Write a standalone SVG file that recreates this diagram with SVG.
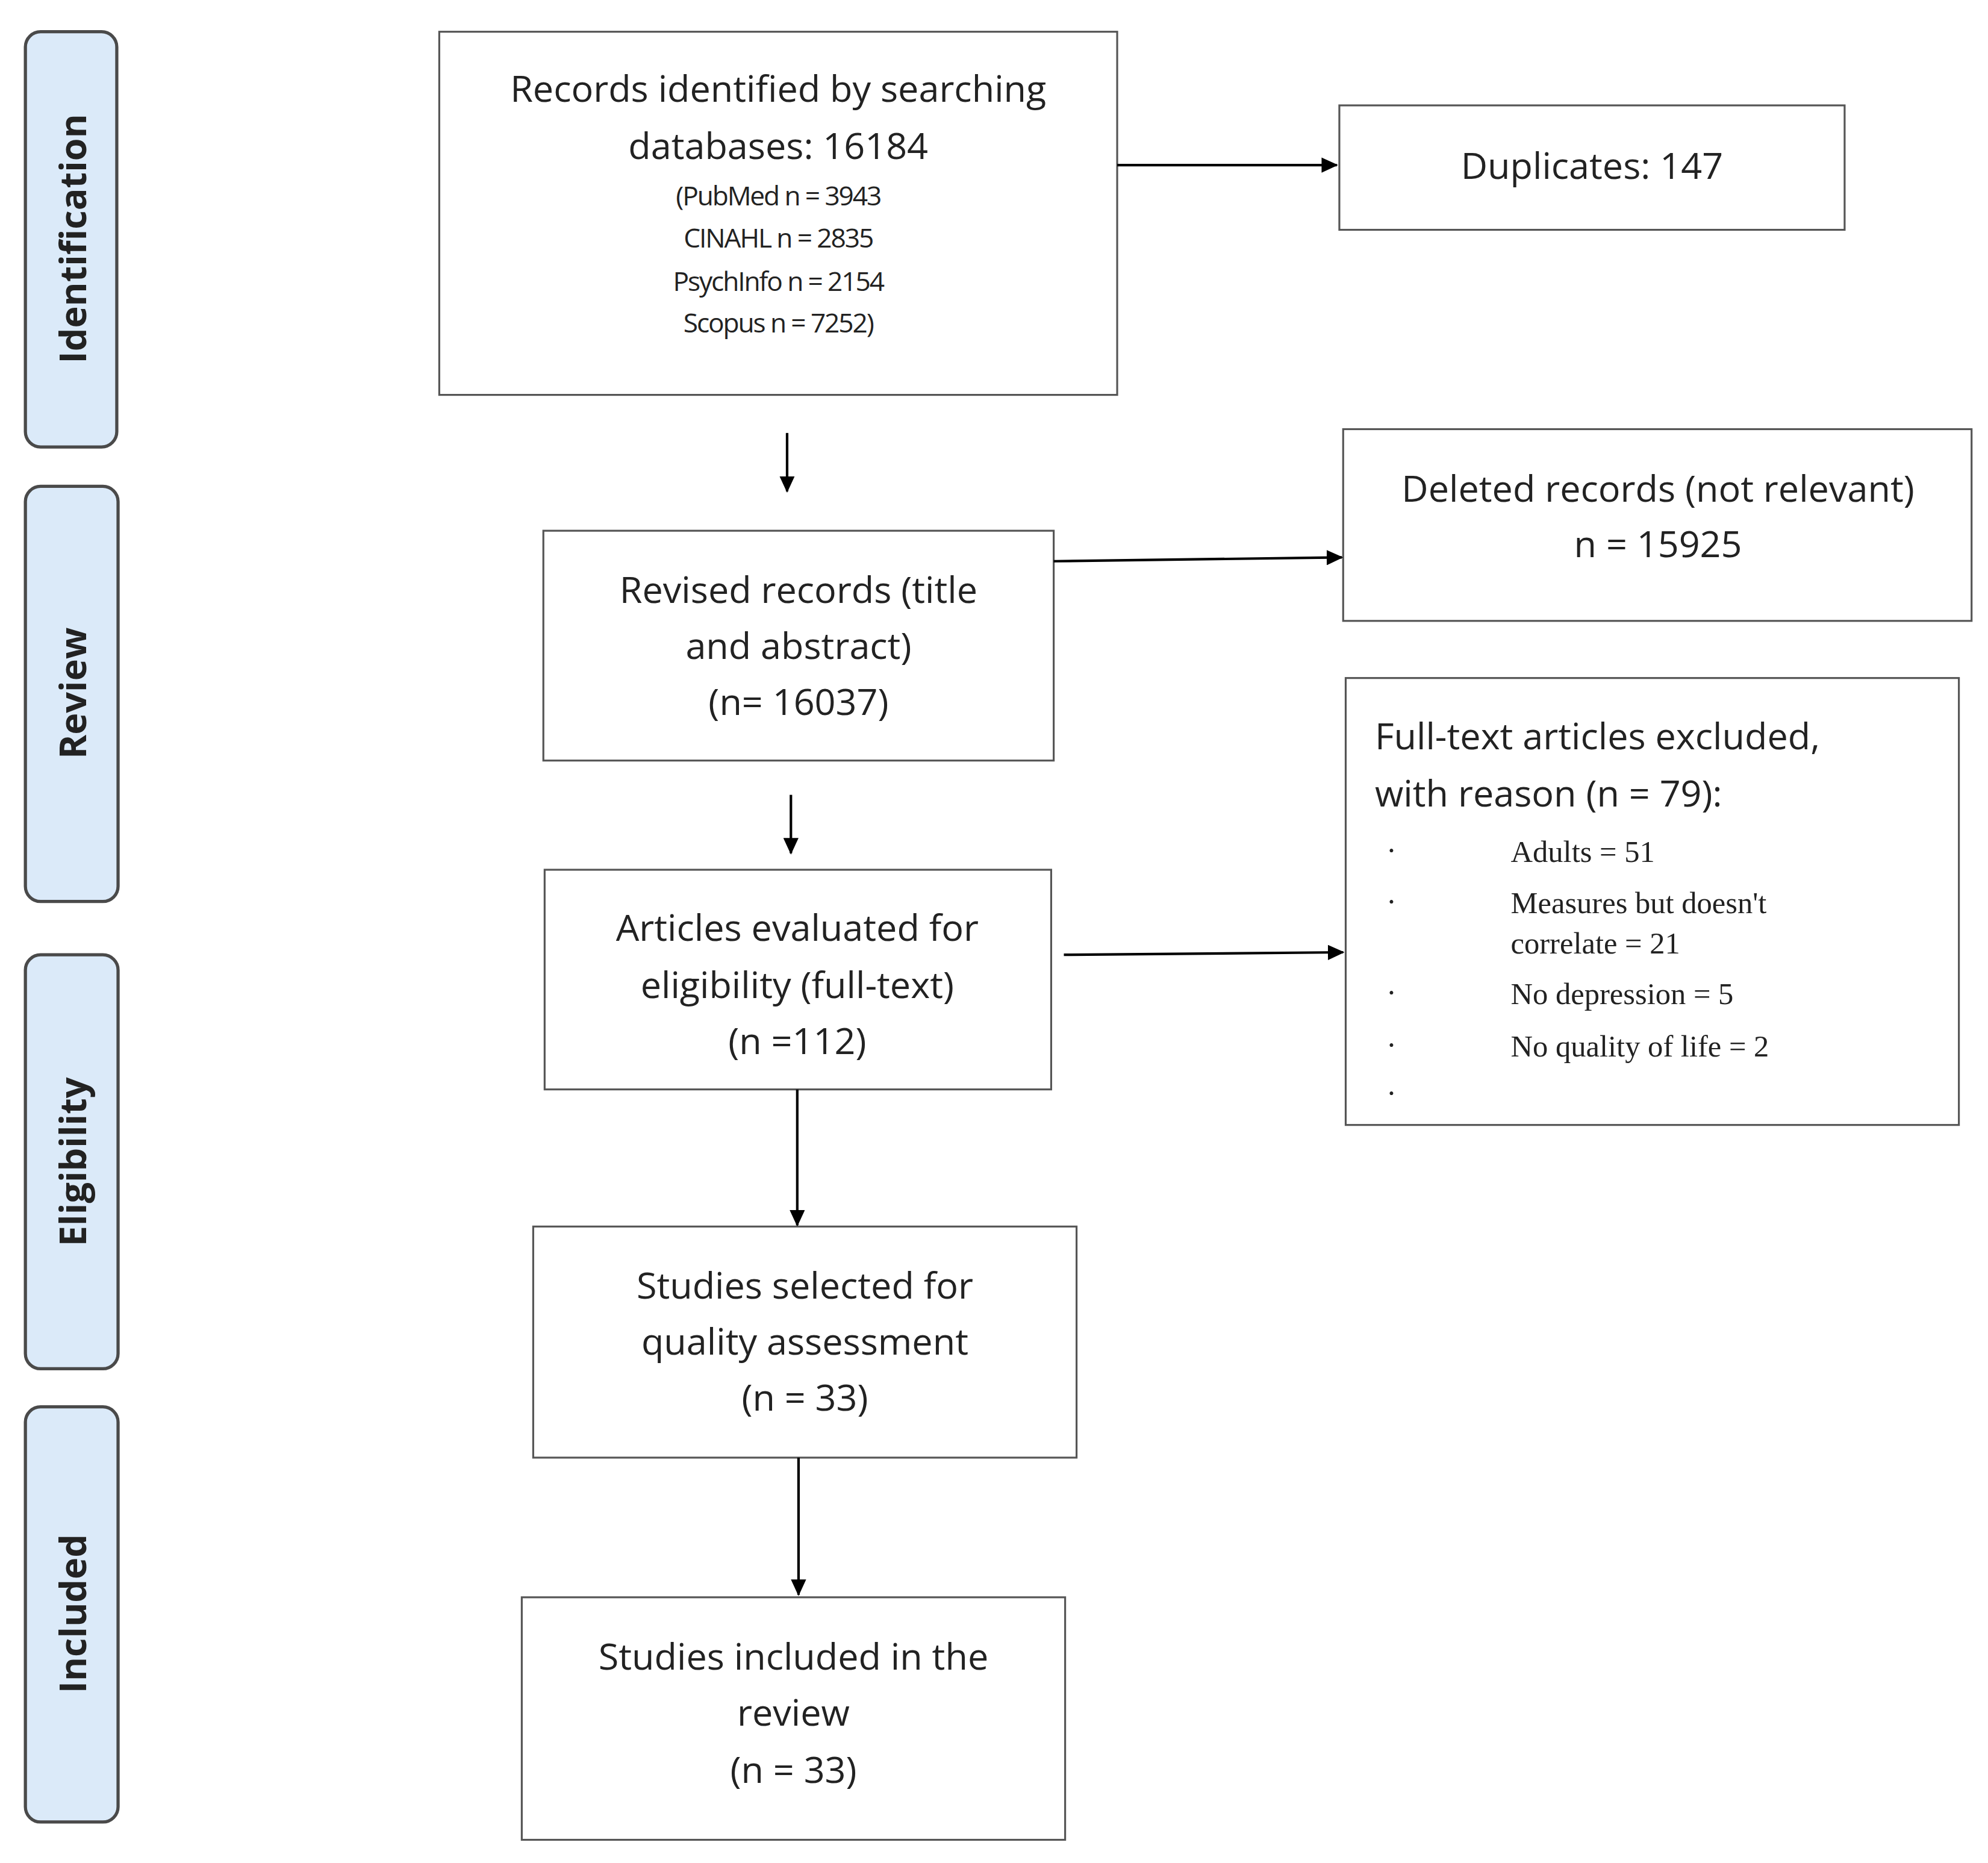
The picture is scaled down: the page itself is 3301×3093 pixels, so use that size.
<svg xmlns="http://www.w3.org/2000/svg" width="3301" height="3093" viewBox="0 0 3301 3093">
<defs>
<marker id="ah" markerWidth="13" markerHeight="12" refX="12" refY="6" orient="auto" markerUnits="userSpaceOnUse"><path d="M0,0 L13,6 L0,12 z" fill="#000"/></marker>
<style>
.box{fill:#fff;stroke:#555;stroke-width:1.5}
.side{fill:#dbeaf9;stroke:#4a4a4a;stroke-width:2.5}
.t{font-family:"Open Sans","Liberation Sans",sans-serif;font-size:29px;fill:#222;text-anchor:middle}
.l{text-anchor:start}
.s{font-family:"Open Sans","Liberation Sans",sans-serif;font-size:21px;fill:#222;text-anchor:middle;letter-spacing:-1px}
.st{font-family:"Open Sans","Liberation Sans",sans-serif;font-size:29px;font-weight:bold;fill:#222;text-anchor:middle}
.r{font-family:"Liberation Serif",serif;font-size:24px;fill:#222}
.c{stroke:#000;stroke-width:2;fill:none;marker-end:url(#ah)}
</style>
</defs>
<rect width="3301" height="3093" fill="#fff"/>
<g transform="scale(2.108)">
<g id="stage-identification"><rect class="side" x="20" y="25" width="72" height="327" rx="12"/><text class="st" transform="translate(68,188) rotate(-90)">Identification</text></g>
<g id="stage-review"><rect class="side" x="20" y="383" width="73" height="327" rx="12"/><text class="st" transform="translate(68,546) rotate(-90)">Review</text></g>
<g id="stage-eligibility"><rect class="side" x="20" y="752" width="73" height="326" rx="12"/><text class="st" transform="translate(68,915) rotate(-90)">Eligibility</text></g>
<g id="stage-included"><rect class="side" x="20" y="1108" width="73" height="327" rx="12"/><text class="st" transform="translate(68,1271) rotate(-90)">Included</text></g>

<g id="records"><rect class="box" x="346" y="25" width="534" height="286"/>
<text class="t" x="613" y="80">Records identified by searching</text>
<text class="t" x="613" y="125">databases: 16184</text>
<text class="s" x="613" y="162">(PubMed n = 3943</text>
<text class="s" x="613" y="195">CINAHL n = 2835</text>
<text class="s" x="613" y="229">PsychInfo n = 2154</text>
<text class="s" x="613" y="262">Scopus n = 7252)</text></g>
<g id="duplicates"><rect class="box" x="1055" y="83" width="398" height="98"/><text class="t" x="1254" y="141">Duplicates: 147</text></g>
<g id="revised"><rect class="box" x="428" y="418" width="402" height="181"/>
<text class="t" x="629" y="475">Revised records (title</text><text class="t" x="629" y="519">and abstract)</text><text class="t" x="629" y="563">(n= 16037)</text></g>
<g id="deleted"><rect class="box" x="1058" y="338" width="495" height="151"/>
<text class="t" x="1306" y="395">Deleted records (not relevant)</text><text class="t" x="1306" y="439">n = 15925</text></g>
<g id="articles"><rect class="box" x="429" y="685" width="399" height="173"/>
<text class="t" x="628" y="741">Articles evaluated for</text><text class="t" x="628" y="786">eligibility (full-text)</text><text class="t" x="628" y="830">(n =112)</text></g>
<g id="excluded"><rect class="box" x="1060" y="534" width="483" height="352"/>
<text class="t l" x="1083" y="590">Full-text articles excluded,</text>
<text class="t l" x="1083" y="635">with reason (n = 79):</text>
<text class="r" x="1092" y="678">·</text><text class="r" x="1190" y="679">Adults = 51</text>
<text class="r" x="1092" y="718">·</text><text class="r" x="1190" y="719">Measures but doesn't</text><text class="r" x="1190" y="751">correlate = 21</text>
<text class="r" x="1092" y="790">·</text><text class="r" x="1190" y="791">No depression = 5</text>
<text class="r" x="1092" y="831">·</text><text class="r" x="1190" y="832">No quality of life = 2</text>
<text class="r" x="1092" y="869">·</text></g>
<g id="selected"><rect class="box" x="420" y="966" width="428" height="182"/>
<text class="t" x="634" y="1023">Studies selected for</text><text class="t" x="634" y="1067">quality assessment</text><text class="t" x="634" y="1111">(n = 33)</text></g>
<g id="included"><rect class="box" x="411" y="1258" width="428" height="191"/>
<text class="t" x="625" y="1315">Studies included in the</text><text class="t" x="625" y="1359">review</text><text class="t" x="625" y="1404">(n = 33)</text></g>

<g id="connectors">
<line class="c" x1="880" y1="130" x2="1053" y2="130"/>
<line class="c" x1="620" y1="341" x2="620" y2="387"/>
<line class="c" x1="830" y1="442" x2="1057" y2="439"/>
<line class="c" x1="623" y1="626" x2="623" y2="672"/>
<line class="c" x1="838" y1="752" x2="1058" y2="750"/>
<line class="c" x1="628" y1="858" x2="628" y2="965"/>
<line class="c" x1="629" y1="1148" x2="629" y2="1256"/>
</g>
</g>
</svg>
